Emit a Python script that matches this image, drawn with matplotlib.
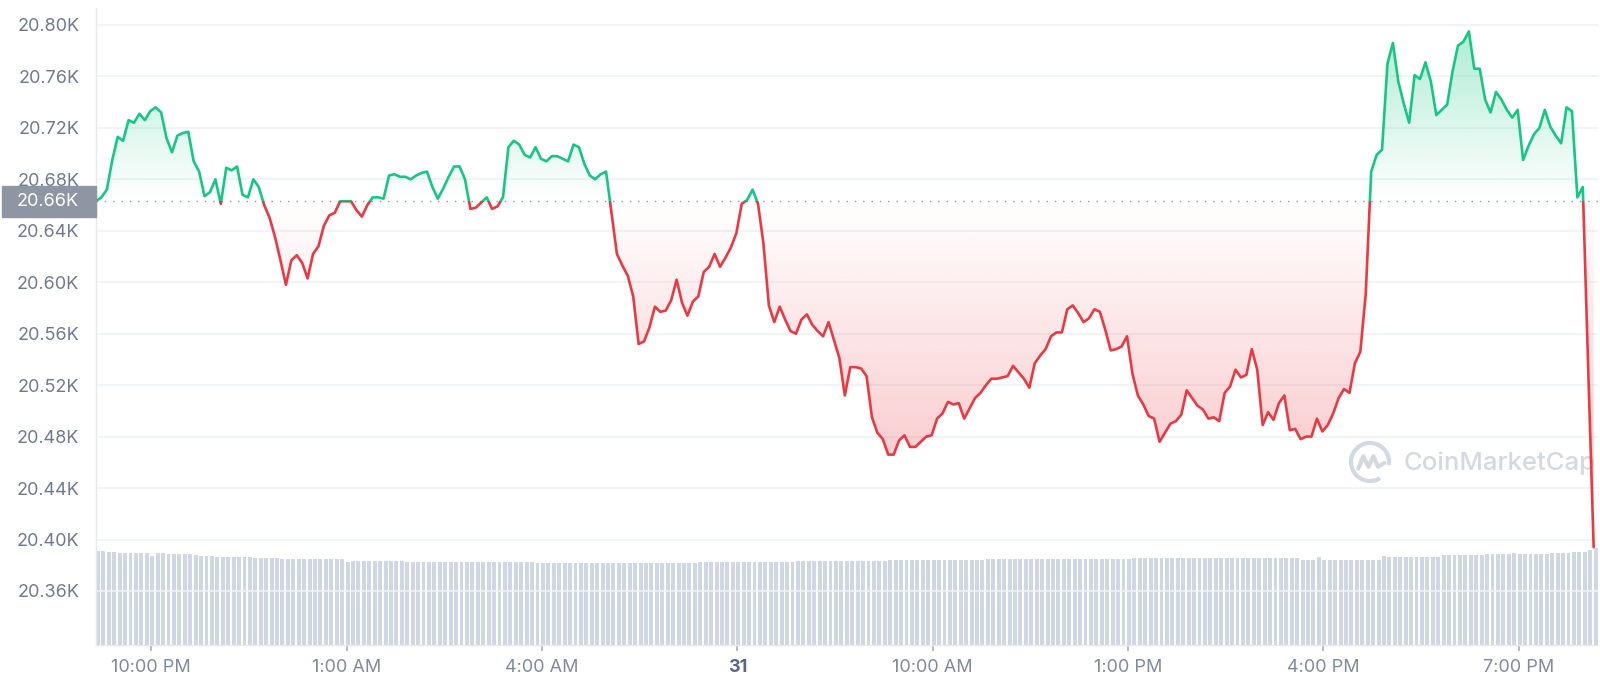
import matplotlib
matplotlib.use("Agg")
import matplotlib.pyplot as plt
import matplotlib.dates as mdates
import numpy as np
import pandas as pd
from matplotlib.colors import to_rgb
from matplotlib.lines import Line2D
from matplotlib.patches import Arc, Rectangle
from matplotlib.path import Path

plt.rcParams["font.family"] = ["Inter", "DejaVu Sans"]

# BTC price, 5-minute steps (USD)
price = [
    20663, 20666, 20672, 20695, 20713, 20710, 20726, 20724, 20731, 20726,
    20733, 20736, 20732, 20712, 20701, 20714, 20716, 20717, 20694, 20686,
    20667, 20670, 20680, 20661, 20689, 20687, 20690, 20668, 20666, 20680,
    20674, 20660, 20650, 20635, 20617, 20598, 20617, 20621, 20615, 20603,
    20622, 20628, 20644, 20652, 20654, 20663, 20663, 20663, 20656, 20651,
    20660, 20666, 20666, 20665, 20683, 20684, 20682, 20682, 20680, 20683,
    20685, 20686, 20674, 20665, 20673, 20682, 20690, 20690, 20680, 20657,
    20658, 20662, 20666, 20657, 20659, 20666, 20705, 20710, 20707, 20699,
    20697, 20705, 20696, 20694, 20698, 20698, 20696, 20694, 20707, 20705,
    20692, 20683, 20680, 20684, 20686, 20654, 20622, 20613, 20605, 20589,
    20552, 20554, 20565, 20581, 20577, 20578, 20586, 20602, 20584, 20574,
    20585, 20589, 20608, 20612, 20622, 20612, 20619, 20627, 20638, 20661,
    20664, 20672, 20661, 20630, 20582, 20569, 20581, 20571, 20562, 20560,
    20571, 20575, 20567, 20562, 20558, 20569, 20555, 20541, 20512, 20534,
    20534, 20533, 20527, 20495, 20483, 20478, 20466, 20466, 20477, 20481,
    20472, 20472, 20476, 20480, 20481, 20494, 20498, 20507, 20505, 20506,
    20494, 20502, 20510, 20514, 20520, 20525, 20525, 20526, 20527, 20535,
    20530, 20525, 20518, 20537, 20543, 20548, 20558, 20561, 20561, 20579,
    20582, 20576, 20569, 20572, 20579, 20577, 20563, 20547, 20548, 20550,
    20558, 20529, 20512, 20505, 20496, 20494, 20476, 20483, 20490, 20492,
    20497, 20516, 20510, 20504, 20501, 20494, 20495, 20492, 20514, 20519,
    20532, 20526, 20528, 20548, 20532, 20489, 20499, 20493, 20506, 20512,
    20485, 20486, 20478, 20480, 20480, 20494, 20484, 20489, 20498, 20510,
    20517, 20514, 20537, 20546, 20591, 20686, 20699, 20703, 20770, 20786,
    20756, 20739, 20724, 20761, 20758, 20771, 20756, 20730, 20734, 20738,
    20764, 20784, 20787, 20795, 20766, 20766, 20742, 20732, 20748, 20742,
    20734, 20728, 20734, 20695, 20706, 20715, 20720, 20734, 20721, 20714,
    20708, 20736, 20733, 20666, 20674, 20532, 20394,
]

# 24h volume (billion USD), one bar per price point
volume = [
    37.6, 37.6, 37.4, 37.1, 36.8, 36.8, 36.8, 36.8, 36.8, 36.8,
    35.6, 36.8, 36.8, 36.6, 36.4, 36.4, 36.4, 36.4, 36.0, 35.6,
    35.6, 35.6, 35.1, 35.1, 35.1, 35.1, 35.1, 35.1, 35.1, 34.8,
    34.8, 34.8, 34.8, 34.8, 34.6, 34.6, 34.6, 34.6, 34.6, 34.6,
    34.6, 34.6, 34.6, 34.6, 34.6, 34.4, 33.4, 33.6, 33.6, 33.6,
    33.6, 33.6, 33.6, 33.6, 33.6, 33.6, 33.6, 33.2, 33.2, 33.2,
    33.2, 33.2, 33.2, 33.2, 33.2, 33.2, 33.2, 33.2, 33.2, 33.2,
    33.2, 33.2, 33.2, 33.2, 33.2, 33.2, 33.2, 33.2, 33.2, 33.2,
    33.2, 33.0, 33.0, 33.0, 33.0, 33.0, 33.0, 33.0, 33.0, 33.0,
    33.0, 33.0, 33.0, 33.0, 33.0, 33.0, 33.0, 33.0, 33.0, 33.0,
    33.0, 33.0, 33.0, 33.0, 33.0, 33.0, 33.0, 33.0, 33.0, 33.0,
    33.0, 33.1, 33.1, 33.1, 33.1, 33.1, 33.1, 33.1, 33.1, 33.1,
    33.1, 33.1, 33.1, 33.1, 33.1, 33.1, 33.1, 33.1, 33.1, 33.7,
    33.7, 33.7, 33.7, 33.7, 33.7, 33.7, 33.7, 33.7, 33.7, 33.7,
    33.7, 33.7, 33.7, 33.7, 33.7, 33.7, 33.9, 33.9, 33.9, 33.9,
    33.9, 33.9, 33.9, 33.9, 33.9, 33.9, 33.9, 33.9, 33.9, 33.9,
    33.9, 33.9, 33.9, 33.9, 34.5, 34.5, 34.5, 34.5, 34.5, 34.5,
    34.5, 34.5, 34.5, 34.5, 34.5, 34.5, 34.5, 34.5, 34.5, 34.5,
    34.5, 34.5, 34.5, 34.5, 34.5, 34.5, 34.5, 34.5, 34.5, 34.5,
    34.5, 34.7, 34.7, 34.7, 34.7, 34.7, 34.7, 34.7, 34.7, 34.7,
    34.7, 34.7, 34.7, 34.7, 34.7, 34.7, 34.7, 34.7, 34.7, 34.7,
    34.7, 34.7, 34.7, 34.7, 34.7, 34.7, 34.7, 34.7, 34.7, 34.7,
    34.7, 34.7, 34.0, 34.0, 34.0, 35.1, 34.0, 34.0, 34.0, 34.0,
    34.0, 34.0, 34.0, 34.0, 34.0, 34.0, 34.0, 35.7, 35.3, 35.3,
    35.3, 35.3, 35.3, 35.3, 35.3, 35.3, 35.3, 35.3, 36.0, 36.0,
    36.0, 36.0, 36.0, 36.0, 36.0, 36.0, 36.3, 36.3, 36.3, 36.3,
    36.3, 36.8, 36.4, 36.4, 36.4, 36.4, 36.4, 36.4, 36.7, 36.7,
    36.7, 36.7, 37.3, 37.3, 37.3, 38.0, 38.7,
]

open_price = 20663
start_time = "2022-10-30 21:09"
tick_times = ["2022-10-30 22:00", "2022-10-31 01:00", "2022-10-31 04:00",
              "2022-10-31 07:00", "2022-10-31 10:00", "2022-10-31 13:00",
              "2022-10-31 16:00", "2022-10-31 19:00"]
tick_labels = ["10:00 PM", "1:00 AM", "4:00 AM", "31", "10:00 AM",
               "1:00 PM", "4:00 PM", "7:00 PM"]
y_ticks = list(range(20360, 20801, 40))

GREEN = "#16c784"
RED = "#ea3943"
GREY = "#808a9d"

p = np.array(price, dtype=float)
times = pd.date_range(start_time, periods=len(p), freq="5min")
x = mdates.date2num(times.to_pydatetime())
x0, x1 = x[0], x[-1] + 4 / 1440

W, H = 1600, 689
fig = plt.figure(figsize=(W / 100, H / 100), dpi=100)
rect = [96 / W, (H - 645) / H, 1502 / W, 637 / H]

# volume bars underneath
ax_vol = fig.add_axes(rect)
ax_vol.bar(x, volume, width=3.6 / 1440, align="edge", color="#cfd6e4", linewidth=0)
ax_vol.set_xlim(x0, x1)
ax_vol.set_ylim(0, 254.8)
ax_vol.axis("off")

ax = fig.add_axes(rect, sharex=ax_vol)
ax.patch.set_alpha(0)
y_lo, y_hi = 20318, 20813.2


def gradient_fill(where, lo, hi, a_lo, a_hi, color):
    coll = ax.fill_between(x, open_price, p, where=where, interpolate=True,
                           facecolor="none", edgecolor="none")
    clip = Path.make_compound_path(*coll.get_paths())
    img = np.zeros((256, 1, 4))
    img[:, :, :3] = to_rgb(color)
    img[:, 0, 3] = np.linspace(a_lo, a_hi, 256)
    im = ax.imshow(img, aspect="auto", origin="lower",
                   extent=[x0, x1, lo, hi], zorder=2, interpolation="bilinear")
    im.set_clip_path(clip, ax.transData)


gradient_fill(p >= open_price, open_price, p.max(), 0.0, 0.34, GREEN)
gradient_fill(p <= open_price, p.min(), open_price, 0.34, 0.0, RED)

# line: green above the open price, red below
for color, lo, hi in [(GREEN, open_price, y_hi), (RED, y_lo, open_price)]:
    (ln,) = ax.plot(x, p, color=color, lw=1.9, zorder=4,
                    solid_joinstyle="round", solid_capstyle="round")
    clip = Path([(x0, lo), (x1, lo), (x1, hi), (x0, hi), (x0, lo)])
    ln.set_clip_path(clip, ax.transData)

ax.axhline(open_price, color="#8c95a6", lw=1.0, linestyle=(0, (1, 5)), zorder=3)

ax.set_xlim(x0, x1)
ax.set_ylim(y_lo, y_hi)
ax.set_yticks(y_ticks)
ax.set_yticklabels([f"{v / 1000:.2f}K" for v in y_ticks])
ax.grid(axis="y", color="#eff2f5", lw=1.2, zorder=0)
ax.set_axisbelow(True)

ax.set_xticks(mdates.date2num(pd.to_datetime(tick_times).to_pydatetime()))
ax.set_xticklabels(tick_labels)
ax.tick_params(axis="y", length=0, pad=12, labelsize=13, labelcolor="#6f7a8f")
ax.tick_params(axis="x", length=4, width=1.2, color="#a6b0c3", pad=6,
               labelsize=13, labelcolor=GREY)
day_label = ax.get_xticklabels()[3]
day_label.set_fontweight("bold")
day_label.set_color("#58667e")

for side in ["top", "right"]:
    ax.spines[side].set_visible(False)
for side in ["left", "bottom"]:
    ax.spines[side].set_color("#e6eaf0")
    ax.spines[side].set_linewidth(1.0)

# open price tag
fig.patches.append(Rectangle((2 / W, 1 - 216.7 / H), 94 / W, 30.7 / H,
                             transform=fig.transFigure, color="#8f96a3", zorder=10))
fig.text(79 / W, 1 - 201.5 / H, f"{open_price / 1000:.2f}K", ha="right", va="center",
         color="white", fontsize=13, zorder=11)

# watermark
wm = "#d3d9e3"
ax.text(1404 / W, 1 - 463 / H, "CoinMarketCap", transform=fig.transFigure,
        ha="left", va="center", fontsize=18.5, fontweight="medium", color=wm, zorder=1)
cx, cy, r = 1370, 462, 19
ax.add_patch(Arc((cx / W, 1 - cy / H), 2 * r / W, 2 * r / H, theta1=-20, theta2=285,
                 transform=fig.transFigure, color=wm, lw=3, zorder=1))
mx = [-0.62, -0.35, -0.08, 0.18, 0.42, 0.75]
my = [-0.35, 0.30, -0.25, 0.30, -0.25, -0.05]
ax.add_line(Line2D([(cx + r * a) / W for a in mx], [1 - (cy - r * b) / H for b in my],
                   transform=fig.transFigure, color=wm, lw=3, zorder=1,
                   solid_joinstyle="round", solid_capstyle="round"))

fig.savefig("out.png", dpi=100, facecolor="white")
